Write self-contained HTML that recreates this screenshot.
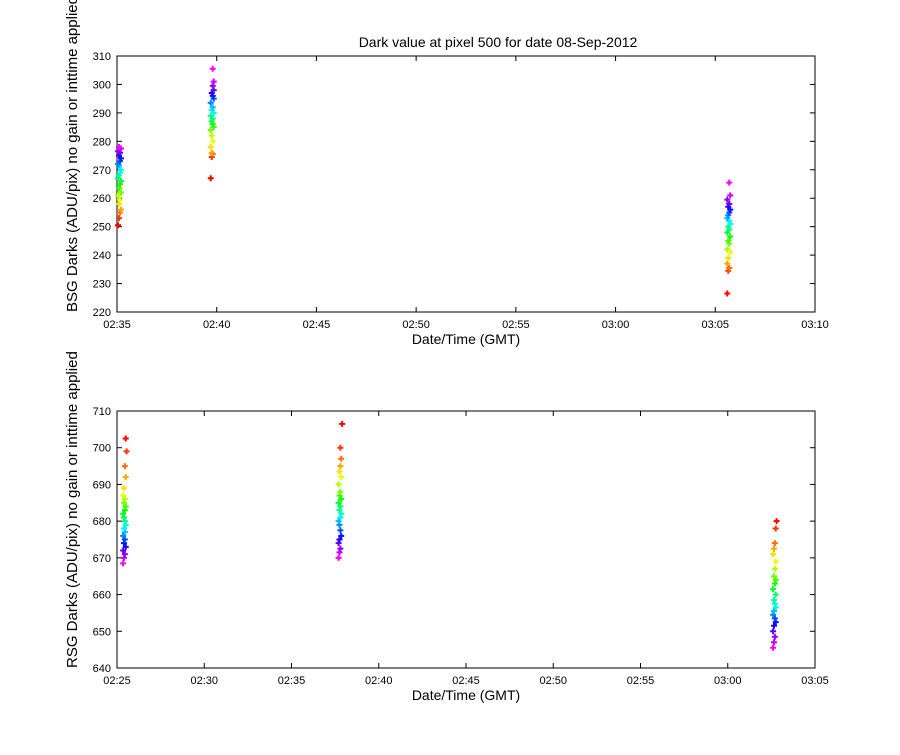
<!DOCTYPE html>
<html><head><meta charset="utf-8"><style>
body{margin:0;background:#fff;overflow:hidden;}
svg text{font-family:"Liberation Sans",sans-serif;}
</style></head><body>
<svg id="c" width="900" height="750" xmlns="http://www.w3.org/2000/svg"></svg>
<script>
// Top panel (BSG) data: minutes after 02:35
const bsgTimes1=[0.05,0.1,0.15,0.2,0.1,0.15,0.05,0.2,0.1,0.15,0.2,0.05,0.1,0.15,0.2,0.1,0.05,0.15,0.2,0.1,0.15,0.05,0.2,0.1];
const bsgVals1=[250.5,253,255,256,258,259.5,261,262,263.5,265,266,267,268,269,270,271.5,272,273,274,275,276,276.5,277.5,278];
const bsgTimes2=[4.7,4.75,4.8,4.75,4.7,4.8,4.75,4.7,4.85,4.8,4.75,4.8,4.7,4.85,4.75,4.8,4.7,4.85,4.8,4.75,4.85,4.8,4.85,4.8];
const bsgVals2=[267,274.5,275.5,276,278,280,282,284,285,286,287,288,289,290,291,292,293.5,295,296,297,298,299.5,301,305.5];
const bsgTimes3=[30.6,30.65,30.7,30.6,30.65,30.75,30.6,30.7,30.65,30.75,30.6,30.7,30.65,30.75,30.7,30.6,30.65,30.7,30.75,30.65,30.7,30.6,30.75,30.7];
const bsgVals3=[226.5,234.5,235.5,237,239,241,242,244,245,246.5,248,249,250,251,252,253,254,255,256,257,258,259.5,261,265.5];
// Bottom panel (RSG) data: minutes after 02:25
const rsgTimes1=[0.35,0.4,0.45,0.35,0.5,0.4,0.45,0.35,0.45,0.4,0.5,0.45,0.4,0.35,0.45,0.5,0.4,0.45,0.35,0.4,0.5,0.45,0.55,0.5];
const rsgVals1=[668.5,670,671,672,673,674,675,676,677,678,679,680,681,682,683,684,685,686,687,689,692,695,699,702.5];
const rsgTimes2=[12.7,12.75,12.8,12.7,12.75,12.85,12.8,12.75,12.7,12.8,12.85,12.75,12.8,12.7,12.85,12.75,12.8,12.7,12.85,12.75,12.8,12.85,12.8,12.9];
const rsgVals2=[670,671.5,672.5,674,675,676,677.5,679,680,681,682,683,684,685,686,687,688,690,692,693.5,695,697,700,706.5];
const rsgTimes3=[37.6,37.65,37.7,37.6,37.65,37.75,37.7,37.6,37.65,37.75,37.7,37.65,37.75,37.6,37.7,37.75,37.65,37.7,37.75,37.6,37.65,37.7,37.75,37.8];
const rsgVals3=[645.5,647,648.5,650,651.5,652.5,653.5,654.5,655.5,656.5,657.5,658.5,660,661.5,663,664,665,667,669,671,672.5,674,678,680];
const topXTicks=["02:35","02:40","02:45","02:50","02:55","03:00","03:05","03:10"];
const topYTicks=[220,230,240,250,260,270,280,290,300,310];
const botXTicks=["02:25","02:30","02:35","02:40","02:45","02:50","02:55","03:00","03:05"];
const botYTicks=[640,650,660,670,680,690,700,710];

const svg=document.getElementById('c');
const NS='http://www.w3.org/2000/svg';
function mk(tag,attrs,parent){const e=document.createElementNS(NS,tag);for(const k in attrs)e.setAttribute(k,attrs[k]);(parent||svg).appendChild(e);return e;}
function hue(i,n,rev){const f=i/(n-1);const h=rev?300*(1-f):300*f;return `hsl(${h},100%,50%)`;}

function panel(o){
  const g=mk('g',{});
  
  
  const L=117,R=815,T=o.top,B=o.bot;
  const xs=m=>L+(R-L)*m/o.xMax;
  const ys=v=>B-(B-T)*(v-o.yMin)/(o.yMax-o.yMin);
  const box=mk('rect',{x:L,y:T,width:R-L,height:B-T,fill:'#fff',stroke:'#000','stroke-width':1},g);
  
  
  o.xTicks.forEach((t,i)=>{const x=xs(i*5);
    mk('line',{x1:x,y1:B,x2:x,y2:B-5,stroke:'#000'},g);mk('line',{x1:x,y1:T,x2:x,y2:T+5,stroke:'#000'},g);
    const tx=mk('text',{x:x,y:B+16,'font-size':11,'text-anchor':'middle'},g);tx.textContent=t;
    
    });
  o.yTicks.forEach(v=>{const y=ys(v);
    mk('line',{x1:L,y1:y,x2:L+5,y2:y,stroke:'#000'},g);mk('line',{x1:R,y1:y,x2:R-5,y2:y,stroke:'#000'},g);
    const tx=mk('text',{x:L-6,y:y+4,'font-size':11,'text-anchor':'end'},g);tx.textContent=v;
    
    });
  const xl=mk('text',{x:(L+R)/2,y:B+32,'font-size':14,'text-anchor':'middle'},g);xl.textContent='Date/Time (GMT)';
  
  
  const yl=mk('text',{x:0,y:0,'font-size':15,'text-anchor':'start',transform:`translate(77,${B}) rotate(-90)`},g);yl.textContent=o.ylabel;
  
  
  o.series.forEach(([tm,vl])=>{
    const n=vl.length;
    vl.forEach((v,i)=>{const x=xs(tm[i]),y=ys(v);
      const p=mk('path',{d:`M${x-3},${y-1}h2v-2h2v2h2v2h-2v2h-2v-2h-2z`,fill:hue(i,n,o.rev)},g);
      
      });
  });
}
const title=mk('text',{x:498,y:47,'font-size':14,'text-anchor':'middle'});
title.textContent='Dark value at pixel 500 for date 08-Sep-2012';


panel({name:'bsg-panel',top:56,bot:312,xMax:35,yMin:220,yMax:310,xTicks:topXTicks,yTicks:topYTicks,rev:false,
  ylabel:'BSG Darks (ADU/pix) no gain or inttime applied',series:[[bsgTimes1,bsgVals1],[bsgTimes2,bsgVals2],[bsgTimes3,bsgVals3]]});
panel({name:'rsg-panel',top:411,bot:668,xMax:40,yMin:640,yMax:710,xTicks:botXTicks,yTicks:botYTicks,rev:true,
  ylabel:'RSG Darks (ADU/pix) no gain or inttime applied',series:[[rsgTimes1,rsgVals1],[rsgTimes2,rsgVals2],[rsgTimes3,rsgVals3]]});
</script>
</body></html>
